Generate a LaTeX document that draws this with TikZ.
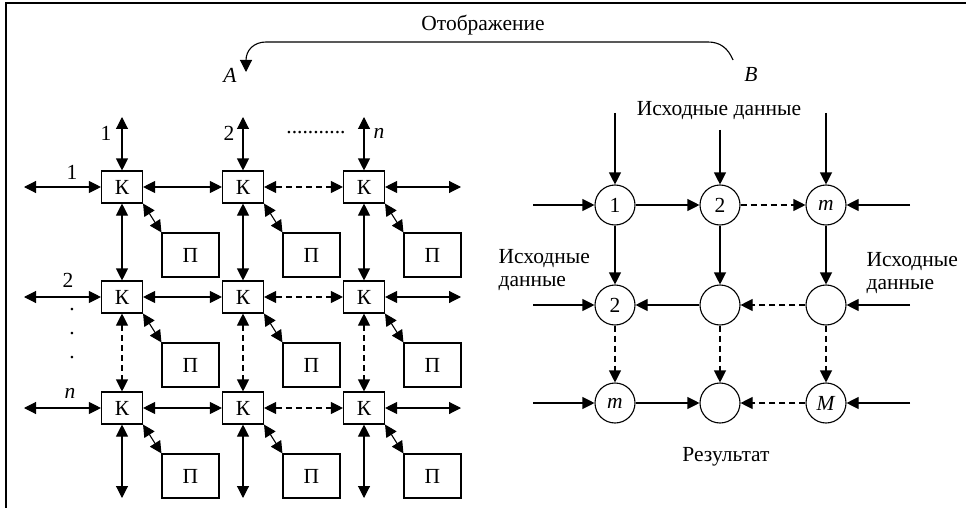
\documentclass[tikz,border=0pt]{standalone}
\usepackage{fontspec}
\setmainfont{Liberation Serif}
\usetikzlibrary{arrows.meta}
\begin{document}
\begin{tikzpicture}[x=1pt,y=-1pt,
  font=\fontsize{21.5}{23}\selectfont,
  line width=1.1pt,
  tip/.style={-{Triangle[length=12pt,width=12pt]}},
  both/.style={{Triangle[length=12pt,width=12pt]}-{Triangle[length=12pt,width=12pt]}},
  dsh/.style={dash pattern=on 6pt off 4pt},
  kbox/.style={draw, minimum width=41pt, minimum height=32pt, inner sep=0pt},
  pbox/.style={draw, minimum width=57pt, minimum height=44pt, inner sep=0pt},
  cnode/.style={draw, circle, minimum size=40pt, inner sep=0pt},
  lbl/.style={inner sep=0pt}
]
\useasboundingbox (0,0) rectangle (966,508);
% frame edges
\draw[line width=1.5pt] (966,3) -- (6,3) -- (6,508);

% mapping arrow B -> A
\node[lbl] (title) at (483,25) {Отображение};
\node[lbl] (la) at (230,75) {\textit{A}};
\node[lbl] (lb) at (751,74) {\textit{B}};
\coordinate (bstart) at (733,60);
\coordinate (aend) at (246,72);
\draw[tip] (bstart) .. controls (728,48) and (720,42) .. (708,42) -- (266,42)
  .. controls (254,42) and (246,50) .. (aend);

% switch grid with processors
\foreach \c/\x in {1/122,2/243,3/364}{
  \foreach \r/\y in {1/187,2/297,3/408}{
    \node[kbox] (k\r\c) at (\x,\y) {К};
    \node[pbox] (p\r\c) at (\x+68.5,\y+68) {П};
    \draw[both] (k\r\c.south east) -- (p\r\c.north west);
  }
  \coordinate (kt\c) at (\x,117);
  \coordinate (kb\c) at (\x,498);
  \draw[both] (kt\c) -- (k1\c.north);
  \draw[both] (k3\c.south) -- (kb\c);
  \draw[both] (k1\c.south) -- (k2\c.north);
  \draw[both,dsh] (k2\c.south) -- (k3\c.north);
}
\foreach \r/\y in {1/187,2/297,3/408}{
  \coordinate (kl\r) at (24,\y);
  \coordinate (kr\r) at (461,\y);
  \draw[both] (kl\r) -- (k\r1.west);
  \draw[both] (k\r3.east) -- (kr\r);
  \draw[both] (k\r1.east) -- (k\r2.west);
  \draw[both,dsh] (k\r2.east) -- (k\r3.west);
}
% grid indices
\node[lbl] (n1t) at (106,133) {1};
\node[lbl] (n2t) at (229,133) {2};
\node[lbl] (dots) at (316,133) {...........};
\node[lbl] (nnt) at (379,133) {\textit{n}};
\node[lbl] (n1l) at (72,172) {1};
\node[lbl] (n2l) at (68,280) {2};
\node[lbl] (nnl) at (70,393) {\textit{n}};
\node[lbl] (d1) at (72,310) {.};
\node[lbl] (d2) at (72,334) {.};
\node[lbl] (d3) at (72,358) {.};

% systolic array
\node[cnode] (c11) at (615,205) {1};
\node[cnode] (c12) at (720,205) {2};
\node[cnode] (c13) at (826,205) {\textit{m}};
\node[cnode] (c21) at (615,305) {2};
\node[cnode] (c22) at (720,305) {};
\node[cnode] (c23) at (826,305) {};
\node[cnode] (c31) at (615,403) {\textit{m}};
\node[cnode] (c32) at (720,403) {};
\node[cnode] (c33) at (826,403) {\textit{M}};

\coordinate (ct1) at (615,113);
\coordinate (ct2) at (720,130);
\coordinate (ct3) at (826,113);
\foreach \c in {1,2,3}{
  \draw[tip] (ct\c) -- (c1\c.north);
  \draw[tip] (c1\c.south) -- (c2\c.north);
  \draw[tip,dsh] (c2\c.south) -- (c3\c.north);
}
\foreach \r/\y in {1/205,2/305,3/403}{
  \coordinate (cl\r) at (533,\y);
  \coordinate (cr\r) at (910,\y);
  \draw[tip] (cl\r) -- (c\r1.west);
  \draw[tip] (cr\r) -- (c\r3.east);
}
\draw[tip] (c11) -- (c12);
\draw[tip,dsh] (c12) -- (c13);
\draw[tip] (c22) -- (c21);
\draw[tip,dsh] (c23) -- (c22);
\draw[tip] (c31) -- (c32);
\draw[tip,dsh] (c33) -- (c32);

\node[lbl] (intop) at (719,111) {Исходные данные};
\node[lbl, anchor=west, align=left] (inleft) at (498,270) {Исходные\\данные};
\node[lbl, anchor=west, align=left] (inright) at (866,273) {Исходные\\данные};
\node[lbl] (res) at (726,457) {Результат};
\end{tikzpicture}
\end{document}
